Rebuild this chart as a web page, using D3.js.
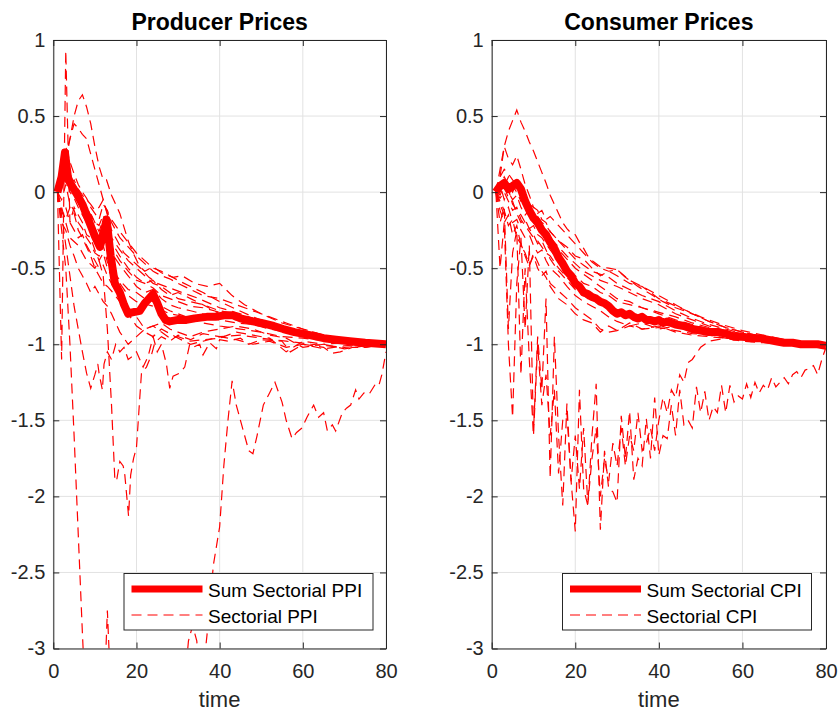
<!DOCTYPE html>
<html>
<head>
<meta charset="utf-8">
<script src="https://cdn.jsdelivr.net/npm/d3@7"></script>
<style>
  body { margin: 0; background: #fff; }
  text { font-family: "Liberation Sans", Arial, Helvetica, sans-serif; }
</style>
</head>
<body>
<svg id="fig" width="838" height="711"></svg>
<script>
// axis ticks
const xTicks = [0, 20, 40, 60, 80];
const yTicks = [1, 0.5, 0, -0.5, -1, -1.5, -2, -2.5, -3];

// shared time grid for the ordinary sectoral paths
const sectorTimes = [1, 2, 3, 4, 5, 6, 7, 8, 9, 10,
  11, 12, 13, 14, 16, 18, 20, 22, 24, 26,
  28, 30, 33, 36, 40, 44, 48, 52, 56, 60,
  65, 70, 75, 80];

// ---------------- producer prices ----------------
const ppiSum = [[1, 0], [2, 0.1], [2.8, 0.26], [3.6, 0.08], [4.5, 0.04], [5.6, -0.01], [7, -0.08], [8, -0.15],
  [9, -0.22], [10, -0.29], [11.2, -0.36], [12, -0.28], [12.8, -0.18], [13.8, -0.42], [14.8, -0.6], [16, -0.66],
  [17, -0.74], [18, -0.8], [19, -0.79], [20.8, -0.78], [22, -0.73], [23, -0.7], [24, -0.67], [25, -0.73],
  [26, -0.8], [27, -0.84], [28, -0.85], [30, -0.84], [32, -0.84], [34, -0.83], [36.9, -0.82], [39, -0.82],
  [41, -0.81], [43.2, -0.81], [45, -0.83], [48, -0.85], [50, -0.86], [53, -0.88], [55.3, -0.9], [58, -0.92],
  [61.7, -0.94], [65, -0.96], [68, -0.97], [71.3, -0.98], [75, -0.99], [80, -1.0]];

const ppiSectors = [
  [0, 0.12, 0.10, 0.05, 0.08, 0.02, -0.02, -0.05, -0.08, -0.12,
   -0.10, -0.05, -0.14, -0.18, -0.26, -0.33, -0.40, -0.45, -0.50, -0.52,
   -0.55, -0.58, -0.62, -0.66, -0.72, -0.77, -0.82, -0.86, -0.89, -0.92,
   -0.95, -0.97, -0.99, -1.00],
  [0, 0.10, 0.18, 0.08, 0.04, 0.00, -0.06, -0.10, -0.15, -0.20,
   -0.22, -0.15, -0.25, -0.30, -0.38, -0.45, -0.50, -0.55, -0.60, -0.62,
   -0.66, -0.70, -0.72, -0.74, -0.78, -0.80, -0.84, -0.87, -0.90, -0.93,
   -0.95, -0.98, -0.99, -1.00],
  [0, 0.02, 0.12, 0.00, -0.04, -0.10, -0.15, -0.20, -0.26, -0.32,
   -0.28, -0.22, -0.30, -0.36, -0.45, -0.52, -0.58, -0.60, -0.63, -0.68,
   -0.70, -0.72, -0.75, -0.76, -0.79, -0.82, -0.85, -0.88, -0.90, -0.93,
   -0.96, -0.98, -1.00, -1.01],
  [0, 0.05, 0.15, 0.10, 0.02, -0.05, -0.12, -0.18, -0.16, -0.25,
   -0.30, -0.20, -0.35, -0.40, -0.48, -0.55, -0.62, -0.66, -0.64, -0.70,
   -0.74, -0.76, -0.78, -0.80, -0.82, -0.84, -0.86, -0.89, -0.91, -0.94,
   -0.96, -0.98, -1.00, -1.00],
  [0, -0.15, -0.10, -0.20, -0.25, -0.30, -0.28, -0.35, -0.40, -0.45,
   -0.50, -0.48, -0.55, -0.60, -0.70, -0.78, -0.82, -0.90, -0.88, -0.92,
   -0.96, -0.95, -0.98, -0.97, -0.96, -0.92, -0.94, -0.96, -1.05, -0.98,
   -1.00, -1.03, -1.01, -1.00],
  [0, -0.05, 0.05, -0.08, -0.12, -0.20, -0.24, -0.30, -0.34, -0.40,
   -0.42, -0.35, -0.46, -0.50, -0.58, -0.64, -0.66, -0.70, -0.72, -0.75,
   -0.78, -0.80, -0.83, -0.82, -0.84, -0.86, -0.87, -0.90, -0.92, -0.94,
   -0.97, -0.99, -1.00, -1.00],
  [0, 0.20, 0.30, 0.20, 0.12, 0.05, 0.00, -0.04, -0.10, -0.14,
   -0.18, -0.08, -0.12, -0.20, -0.30, -0.36, -0.42, -0.47, -0.52, -0.55,
   -0.57, -0.60, -0.64, -0.68, -0.70, -0.74, -0.78, -0.82, -0.86, -0.90,
   -0.94, -0.97, -0.98, -1.00],
  [0, -0.12, -0.18, -0.10, -0.14, -0.25, -0.30, -0.36, -0.42, -0.50,
   -0.55, -0.60, -0.62, -0.65, -0.72, -0.80, -0.88, -0.92, -0.95, -0.90,
   -0.93, -0.96, -1.00, -0.98, -0.95, -0.97, -1.00, -0.98, -1.02, -1.00,
   -1.03, -1.01, -1.00, -1.00],
  [0, -0.20, -0.25, -0.35, -0.42, -0.50, -0.55, -0.60, -0.66, -0.62,
   -0.67, -0.72, -0.75, -0.80, -0.92, -1.00, -0.95, -0.90, -0.88, -0.86,
   -0.90, -0.92, -0.95, -0.92, -0.90, -0.88, -0.90, -0.94, -0.96, -1.02,
   -1.00, -0.99, -1.02, -1.00],
  [0, 0.08, 0.22, 0.12, 0.06, 0.00, -0.04, -0.10, -0.14, -0.20,
   -0.26, -0.18, -0.24, -0.33, -0.42, -0.50, -0.56, -0.60, -0.58, -0.64,
   -0.68, -0.66, -0.70, -0.74, -0.80, -0.81, -0.83, -0.88, -0.90, -0.92,
   -0.95, -0.98, -0.99, -1.00]
];

// the irregular producer sectors, read point by point
const ppiSpike = [[1, 0], [2, -1.1], [3, 0.93], [4, -0.2], [5, -0.1], [6, -0.15], [7, -0.2], [8, -0.28], [9, -0.3],
  [10, -0.38], [11, -0.45], [12, -0.4], [13, -0.5], [14, -0.55], [16, -0.6], [18, -0.68], [20, -0.72], [24, -0.75],
  [28, -0.8], [32, -0.82], [36, -0.86], [40, -0.88], [45, -0.9], [50, -0.92], [55, -0.95], [60, -0.96], [70, -0.99], [80, -1.0]];
const ppiHump = [[1, 0], [2, 0.05], [3, 0.2], [4, 0.35], [5, 0.5], [6, 0.6], [7, 0.64], [8, 0.56], [9, 0.45],
  [10, 0.3], [11, 0.17], [12, 0.08], [12.8, 0.08], [14, -0.02], [16, -0.14], [18, -0.32], [19.2, -0.4], [20.8, -0.49],
  [22, -0.52], [24, -0.49], [26, -0.53], [28.8, -0.56], [31, -0.55], [34, -0.6], [37, -0.62], [40, -0.6],
  [43, -0.68], [46, -0.74], [50, -0.8], [55, -0.86], [60, -0.9], [66, -0.95], [72, -0.98], [80, -1.0]];
const ppiHump2 = [[1, 0], [2, 0.1], [3, 0.25], [4, 0.35], [5, 0.45], [6, 0.42], [7, 0.38], [8, 0.35], [9, 0.25],
  [10, 0.15], [11, 0.05], [12, -0.05], [13, -0.15], [14, -0.25], [15, -0.3], [16, -0.35], [17, -0.4], [19, -0.45],
  [21, -0.5], [23, -0.56], [25, -0.6], [28, -0.63], [31, -0.66], [35, -0.7], [40, -0.76], [45, -0.8], [50, -0.85],
  [55, -0.89], [60, -0.92], [70, -0.97], [80, -1.0]];
const ppiCrash = [[1, 0], [2, -0.25], [3, -0.5], [4, -1.0], [5, -1.6], [6, -2.25], [7, -2.9], [8, -3.5], [10, -3.9],
  [12, -3.5], [13, -2.75], [14, -3.4], [20, -3.8], [26, -3.9], [31, -3.4], [32.5, -2.95], [33.5, -2.85], [34.5, -2.95],
  [35.5, -3.3], [37, -2.9], [38.5, -2.45], [40, -2.2], [41, -1.8], [42, -1.5], [43, -1.24], [44, -1.4], [45, -1.5],
  [46, -1.6], [47, -1.7], [48, -1.72], [49, -1.6], [50.5, -1.4], [52, -1.32], [53.3, -1.25], [55, -1.38], [56, -1.5],
  [57.4, -1.62], [58.5, -1.58], [59.8, -1.55], [61, -1.48], [62.6, -1.4], [63.8, -1.48], [65, -1.45], [65.9, -1.57],
  [67.1, -1.53], [67.9, -1.57], [69.5, -1.45], [70.5, -1.42], [71.5, -1.4], [72.7, -1.3], [73.5, -1.36], [74.7, -1.32],
  [75.9, -1.33], [77.5, -1.26], [78.3, -1.27], [79, -1.2], [80, -1.05]];
const ppiDip = [[1, 0], [2, -0.1], [4, -0.3], [6, -0.35], [8, -0.45], [10, -0.5], [11, -0.45], [12, -0.55], [13, -0.9],
  [14, -1.4], [14.8, -1.89], [15.2, -1.9], [16, -1.77], [16.8, -1.8], [17.2, -1.86], [18.1, -2.13], [18.6, -1.86],
  [19.3, -1.75], [20, -1.68], [20.8, -1.35], [21.2, -1.19], [22.4, -1.15], [23.6, -1.07], [24.4, -0.99], [26, -0.95],
  [28, -0.98], [30, -0.94], [33, -0.97], [36, -0.93], [40, -0.95], [45, -0.94], [50, -0.96], [56, -0.98], [62, -1.0],
  [70, -1.02], [80, -1.0]];
const ppiLow = [[1, 0], [2, -0.15], [3, -0.35], [4, -0.55], [5, -0.75], [6, -0.9], [7, -1.05], [8, -1.19], [9, -1.29],
  [10, -1.2], [10.7, -1.13], [11, -1.19], [11.8, -1.3], [12.2, -1.13], [13, -1.05], [14, -1.1], [15, -1.0], [16, -1.05],
  [17, -1.02], [18, -1.1], [19, -1.08], [20, -1.05], [21.6, -1.15], [22.8, -1.08], [24, -0.95], [25, -1.05], [26, -1.0],
  [27.2, -1.13], [28, -1.29], [28.8, -1.21], [30.4, -1.19], [31.6, -1.15], [32.8, -1.0], [33.6, -1.02], [35.2, -1.0],
  [36, -1.07], [37.6, -0.99], [39.2, -1.03], [40, -0.97], [42, -0.98], [45, -0.96], [47, -1.0], [50, -0.97],
  [55, -0.98], [57, -1.05], [60, -1.0], [65, -1.02], [67, -1.06], [69, -1.05], [72, -1.02], [75, -1.02], [80, -1.0]];

// ---------------- consumer prices ----------------
const cpiSum = [[1, 0], [2, 0.04], [3, 0.06], [4, 0.02], [5, 0.04], [6, 0.06], [7, 0.02], [8, -0.06], [9, -0.12],
  [10, -0.17], [11, -0.2], [12, -0.25], [13, -0.28], [14, -0.33], [15, -0.37], [16, -0.43], [17, -0.47], [18, -0.52],
  [19, -0.55], [20, -0.6], [21, -0.62], [22, -0.66], [23, -0.67], [24, -0.69], [25, -0.7], [26, -0.72], [27, -0.73],
  [28, -0.75], [29, -0.78], [30, -0.8], [31, -0.79], [32, -0.81], [33, -0.8], [34, -0.82], [35, -0.83], [36, -0.82],
  [37, -0.84], [38, -0.84], [39, -0.85], [40, -0.84], [41, -0.86], [42, -0.85], [44, -0.87], [46, -0.88], [48, -0.9],
  [50, -0.91], [52, -0.92], [54, -0.92], [56, -0.93], [58, -0.95], [60, -0.95], [62, -0.96], [64, -0.96], [66, -0.97],
  [68, -0.98], [70, -0.99], [72, -0.99], [74, -1.0], [76, -1.0], [78, -1.0], [80, -1.01]];

const cpiSectors = [
  [0, 0.10, 0.15, 0.12, 0.08, 0.05, 0.00, -0.05, -0.08, -0.10,
   -0.14, -0.12, -0.18, -0.16, -0.22, -0.28, -0.34, -0.40, -0.46, -0.50,
   -0.52, -0.51, -0.58, -0.62, -0.68, -0.74, -0.80, -0.85, -0.89, -0.92,
   -0.95, -0.97, -0.99, -1.00],
  [0, 0.05, -0.05, 0.02, -0.08, -0.12, -0.15, -0.20, -0.24, -0.22,
   -0.28, -0.30, -0.34, -0.38, -0.45, -0.50, -0.55, -0.60, -0.62, -0.66,
   -0.68, -0.72, -0.74, -0.76, -0.80, -0.84, -0.87, -0.90, -0.92, -0.94,
   -0.96, -0.98, -1.00, -1.00],
  [0, -0.08, -0.15, -0.10, -0.20, -0.18, -0.25, -0.30, -0.28, -0.35,
   -0.40, -0.38, -0.45, -0.50, -0.55, -0.62, -0.68, -0.72, -0.75, -0.78,
   -0.82, -0.85, -0.88, -0.86, -0.90, -0.88, -0.91, -0.93, -0.94, -0.96,
   -0.98, -0.99, -1.00, -1.01],
  [0, 0.02, 0.08, 0.00, -0.05, -0.02, -0.10, -0.15, -0.12, -0.20,
   -0.24, -0.22, -0.28, -0.30, -0.36, -0.42, -0.47, -0.52, -0.55, -0.58,
   -0.60, -0.62, -0.66, -0.70, -0.74, -0.80, -0.84, -0.88, -0.91, -0.93,
   -0.96, -0.98, -0.99, -1.00],
  [0, -0.12, -0.20, -0.15, -0.28, -0.22, -0.35, -0.40, -0.48, -0.42,
   -0.50, -0.55, -0.52, -0.60, -0.65, -0.70, -0.76, -0.80, -0.84, -0.90,
   -0.92, -0.91, -0.88, -0.90, -0.89, -0.91, -0.93, -0.94, -0.96, -0.97,
   -0.98, -1.00, -1.00, -1.00],
  [0, 0.04, 0.10, 0.05, 0.00, 0.06, -0.02, -0.08, -0.12, -0.16,
   -0.20, -0.24, -0.26, -0.30, -0.38, -0.44, -0.50, -0.54, -0.58, -0.62,
   -0.66, -0.70, -0.72, -0.76, -0.79, -0.82, -0.86, -0.89, -0.92, -0.94,
   -0.96, -0.98, -1.00, -1.00],
  [0, -0.04, 0.00, -0.06, -0.12, -0.10, -0.18, -0.22, -0.26, -0.30,
   -0.32, -0.36, -0.40, -0.42, -0.50, -0.56, -0.62, -0.66, -0.70, -0.74,
   -0.77, -0.80, -0.82, -0.84, -0.86, -0.88, -0.90, -0.92, -0.94, -0.96,
   -0.98, -0.99, -1.00, -1.01],
  [0, -0.06, -0.12, -0.22, -0.18, -0.30, -0.34, -0.42, -0.49, -0.40,
   -0.46, -0.52, -0.56, -0.62, -0.70, -0.74, -0.80, -0.84, -0.86, -0.92,
   -0.88, -0.91, -0.86, -0.90, -0.88, -0.92, -0.94, -0.95, -0.96, -0.98,
   -0.99, -1.00, -1.01, -1.00],
  [0, 0.06, 0.04, 0.10, 0.04, 0.00, -0.06, -0.04, -0.10, -0.14,
   -0.16, -0.20, -0.22, -0.26, -0.32, -0.38, -0.44, -0.48, -0.52, -0.54,
   -0.56, -0.60, -0.64, -0.68, -0.72, -0.78, -0.83, -0.87, -0.90, -0.93,
   -0.96, -0.98, -0.99, -1.00],
  [0, -0.02, 0.04, -0.04, -0.06, -0.14, -0.20, -0.18, -0.24, -0.28,
   -0.34, -0.32, -0.38, -0.44, -0.52, -0.58, -0.64, -0.68, -0.72, -0.70,
   -0.76, -0.78, -0.80, -0.83, -0.85, -0.87, -0.89, -0.91, -0.93, -0.95,
   -0.97, -0.99, -1.00, -1.00]
];

const cpiHump = [[1, 0], [2, 0.15], [3, 0.3], [4, 0.4], [5, 0.47], [6, 0.54], [7, 0.46], [8, 0.4], [9, 0.33],
  [10, 0.27], [11, 0.2], [12, 0.13], [13, 0.06], [14, -0.02], [15, -0.08], [16, -0.14], [17, -0.2], [18, -0.24],
  [19, -0.27], [20, -0.28], [21, -0.33], [22, -0.37], [23, -0.42], [24, -0.45], [26, -0.49], [28, -0.5], [30, -0.51],
  [32, -0.56], [35, -0.62], [38, -0.67], [41, -0.72], [44, -0.76], [48, -0.8], [52, -0.85], [56, -0.89], [60, -0.92],
  [65, -0.95], [70, -0.97], [75, -0.99], [80, -1.0]];
const cpiHump2 = [[1, 0], [2, 0.1], [3, 0.3], [4, 0.22], [5, 0.18], [6, 0.24], [7, 0.15], [8, 0.05], [9, -0.02],
  [10, -0.1], [11, -0.12], [12, -0.18], [13, -0.2], [14, -0.26], [16, -0.32], [18, -0.36], [20, -0.42], [22, -0.44],
  [24, -0.5], [26, -0.55], [28, -0.52], [30, -0.55], [33, -0.6], [36, -0.62], [40, -0.7], [45, -0.76], [50, -0.82],
  [55, -0.87], [60, -0.91], [70, -0.97], [80, -1.0]];
const cpiZigzag = [[1, 0], [2, -0.5], [3, -0.2], [4, -1.0], [5, -1.48], [6, -0.6], [7, -0.3], [8, -0.9], [9, -0.35],
  [10, -1.57], [11, -0.95], [12, -1.3], [13, -0.7], [14, -1.88], [15, -0.95], [16, -1.6], [17, -2.06], [18, -1.39],
  [19, -1.9], [20, -2.23], [21, -1.3], [22, -1.95], [23, -2.06], [24, -1.6], [25, -1.26], [26, -2.22], [27, -1.7],
  [28, -1.95], [29, -1.97], [30, -2.04], [31, -1.47], [32, -1.75], [33, -1.44], [34, -1.89], [35, -1.75], [36, -1.8],
  [37, -1.49], [38, -1.75], [39, -1.35], [40, -1.73], [41, -1.6], [42, -1.62], [43, -1.4], [44, -1.6], [45, -1.3],
  [46, -1.53], [47, -1.5], [48, -1.55], [49, -1.28], [50, -1.45], [51, -1.31], [52, -1.5], [53, -1.41], [54, -1.45],
  [55, -1.27], [56, -1.45], [57, -1.27], [58, -1.38], [59, -1.34], [60, -1.36], [61, -1.26], [62, -1.35], [63, -1.25],
  [64, -1.32], [65, -1.27], [66, -1.3], [67, -1.22], [68, -1.28], [69, -1.25], [70, -1.22], [71, -1.26], [72, -1.2],
  [73, -1.18], [74, -1.22], [75, -1.17], [76, -1.16], [77, -1.14], [78, -1.2], [79, -1.1], [80, -1.02]];
const cpiZigzag2 = [[1, 0], [2, -0.2], [3, -0.1], [4, -0.9], [5, -0.4], [6, -0.25], [7, -1.2], [8, -0.5], [9, -1.1],
  [10, -1.6], [11, -1.0], [12, -1.4], [13, -1.2], [14, -1.6], [15, -1.3], [16, -1.85], [17, -1.5], [18, -1.45],
  [19, -1.9], [20, -1.6], [21, -1.95], [22, -1.55], [23, -2.05], [24, -1.75], [25, -1.55], [26, -2.0], [27, -1.75],
  [28, -1.9], [29, -1.65], [30, -1.8], [31, -1.55], [32, -1.8], [33, -1.6], [34, -1.7], [35, -1.45], [36, -1.7],
  [37, -1.65], [38, -1.55], [39, -1.7], [40, -1.5], [41, -1.35], [42, -1.45], [43, -1.3], [44, -1.35], [45, -1.2],
  [46, -1.25], [47, -1.12], [48, -1.1], [50, -1.02], [52, -0.98], [56, -0.96], [60, -0.97], [66, -0.98], [72, -1.0],
  [80, -1.0]];

// ---------------- drawing ----------------
const svg = d3.select('#fig');
svg.append('rect').attr('width', 838).attr('height', 711).attr('fill', '#fff');

const axisColor = '#262626';
const gridColor = '#e2e2e2';
const fmt = d => String(d);
const toPairs = vals => vals.map((v, i) => [sectorTimes[i], v]);

function drawPanel(p) {
  const x = d3.scaleLinear().domain([0, 80]).range([p.left, p.right]);
  const y = d3.scaleLinear().domain([-3, 1]).range([648.5, 40]);
  const g = svg.append('g');

  // grid
  g.selectAll('line.gx').data(xTicks).join('line')
      .attr('x1', d => x(d)).attr('x2', d => x(d))
      .attr('y1', y(-3)).attr('y2', y(1))
      .attr('stroke', gridColor).attr('stroke-width', 1);
  g.selectAll('line.gy').data(yTicks).join('line')
      .attr('x1', x(0)).attr('x2', x(80))
      .attr('y1', d => y(d)).attr('y2', d => y(d))
      .attr('stroke', gridColor).attr('stroke-width', 1);

  svg.append('clipPath').attr('id', 'clip-' + p.id)
    .append('rect')
      .attr('x', x(0)).attr('y', y(1))
      .attr('width', x(80) - x(0)).attr('height', y(-3) - y(1));

  const line = d3.line().x(d => x(d[0])).y(d => y(d[1]));
  const plot = g.append('g').attr('clip-path', `url(#clip-${p.id})`);

  p.sectors.forEach(s => {
    plot.append('path')
        .attr('d', line(s))
        .attr('fill', 'none')
        .attr('stroke', '#ff0000')
        .attr('stroke-width', 1.2)
        .attr('stroke-dasharray', '10,6');
  });

  plot.append('path')
      .attr('d', line(p.sum))
      .attr('fill', 'none')
      .attr('stroke', '#ff0000')
      .attr('stroke-width', 8)
      .attr('stroke-linejoin', 'round');

  // axes, ticks pointing inward, as MATLAB draws them
  const styleAxis = a => {
    a.attr('font-size', 20).attr('font-family', '"Liberation Sans", Arial, sans-serif');
    a.select('.domain').attr('stroke', axisColor);
    a.selectAll('.tick line').attr('stroke', axisColor);
    a.selectAll('.tick text').attr('fill', axisColor);
  };
  g.append('g').attr('transform', `translate(${x(0)},0)`)
      .call(d3.axisLeft(y).tickValues(yTicks).tickFormat(fmt).tickSizeInner(-6).tickSizeOuter(0).tickPadding(8))
      .call(styleAxis);
  g.append('g').attr('transform', `translate(${x(80)},0)`)
      .call(d3.axisRight(y).tickValues(yTicks).tickFormat('').tickSizeInner(-6).tickSizeOuter(0))
      .call(styleAxis);
  g.append('g').attr('transform', `translate(0,${y(-3)})`)
      .call(d3.axisBottom(x).tickValues(xTicks).tickFormat(fmt).tickSizeInner(-6).tickSizeOuter(0).tickPadding(15))
      .call(styleAxis);
  g.append('g').attr('transform', `translate(0,${y(1)})`)
      .call(d3.axisTop(x).tickValues(xTicks).tickFormat('').tickSizeInner(-6).tickSizeOuter(0))
      .call(styleAxis);

  const cx = (x(0) + x(80)) / 2;
  g.append('text').attr('x', cx).attr('y', 30)
      .attr('text-anchor', 'middle').attr('font-size', 23).attr('font-weight', 'bold')
      .attr('fill', '#000').text(p.title);
  g.append('text').attr('x', cx).attr('y', 707)
      .attr('text-anchor', 'middle').attr('font-size', 22)
      .attr('fill', axisColor).text('time');

  // legend
  const lg = g.append('g').attr('transform', `translate(${p.legendX},573.5)`);
  lg.append('rect').attr('width', 249).attr('height', 56.5)
      .attr('fill', '#fff').attr('stroke', axisColor).attr('stroke-width', 1);
  lg.append('line').attr('x1', 7.5).attr('x2', 78.5).attr('y1', 15.5).attr('y2', 15.5)
      .attr('stroke', '#ff0000').attr('stroke-width', 7);
  lg.append('line').attr('x1', 7.5).attr('x2', 78.5).attr('y1', 41.5).attr('y2', 41.5)
      .attr('stroke', '#ff0000').attr('stroke-width', 1.2).attr('stroke-dasharray', '10,6');
  lg.append('text').attr('x', 84).attr('y', 23.5).attr('font-size', 19).attr('fill', '#000').text(p.legend[0]);
  lg.append('text').attr('x', 84).attr('y', 49).attr('font-size', 19).attr('fill', '#000').text(p.legend[1]);
}

drawPanel({
  id: 'ppi', left: 53.3, right: 386, title: 'Producer Prices', legendX: 124,
  legend: ['Sum Sectorial PPI', 'Sectorial PPI'],
  sum: ppiSum,
  sectors: ppiSectors.map(toPairs).concat([ppiSpike, ppiHump, ppiHump2, ppiCrash, ppiDip, ppiLow])
});
drawPanel({
  id: 'cpi', left: 491.7, right: 826, title: 'Consumer Prices', legendX: 562.5,
  legend: ['Sum Sectorial CPI', 'Sectorial CPI'],
  sum: cpiSum,
  sectors: cpiSectors.map(toPairs).concat([cpiHump, cpiHump2, cpiZigzag, cpiZigzag2])
});
</script>
</body>
</html>
